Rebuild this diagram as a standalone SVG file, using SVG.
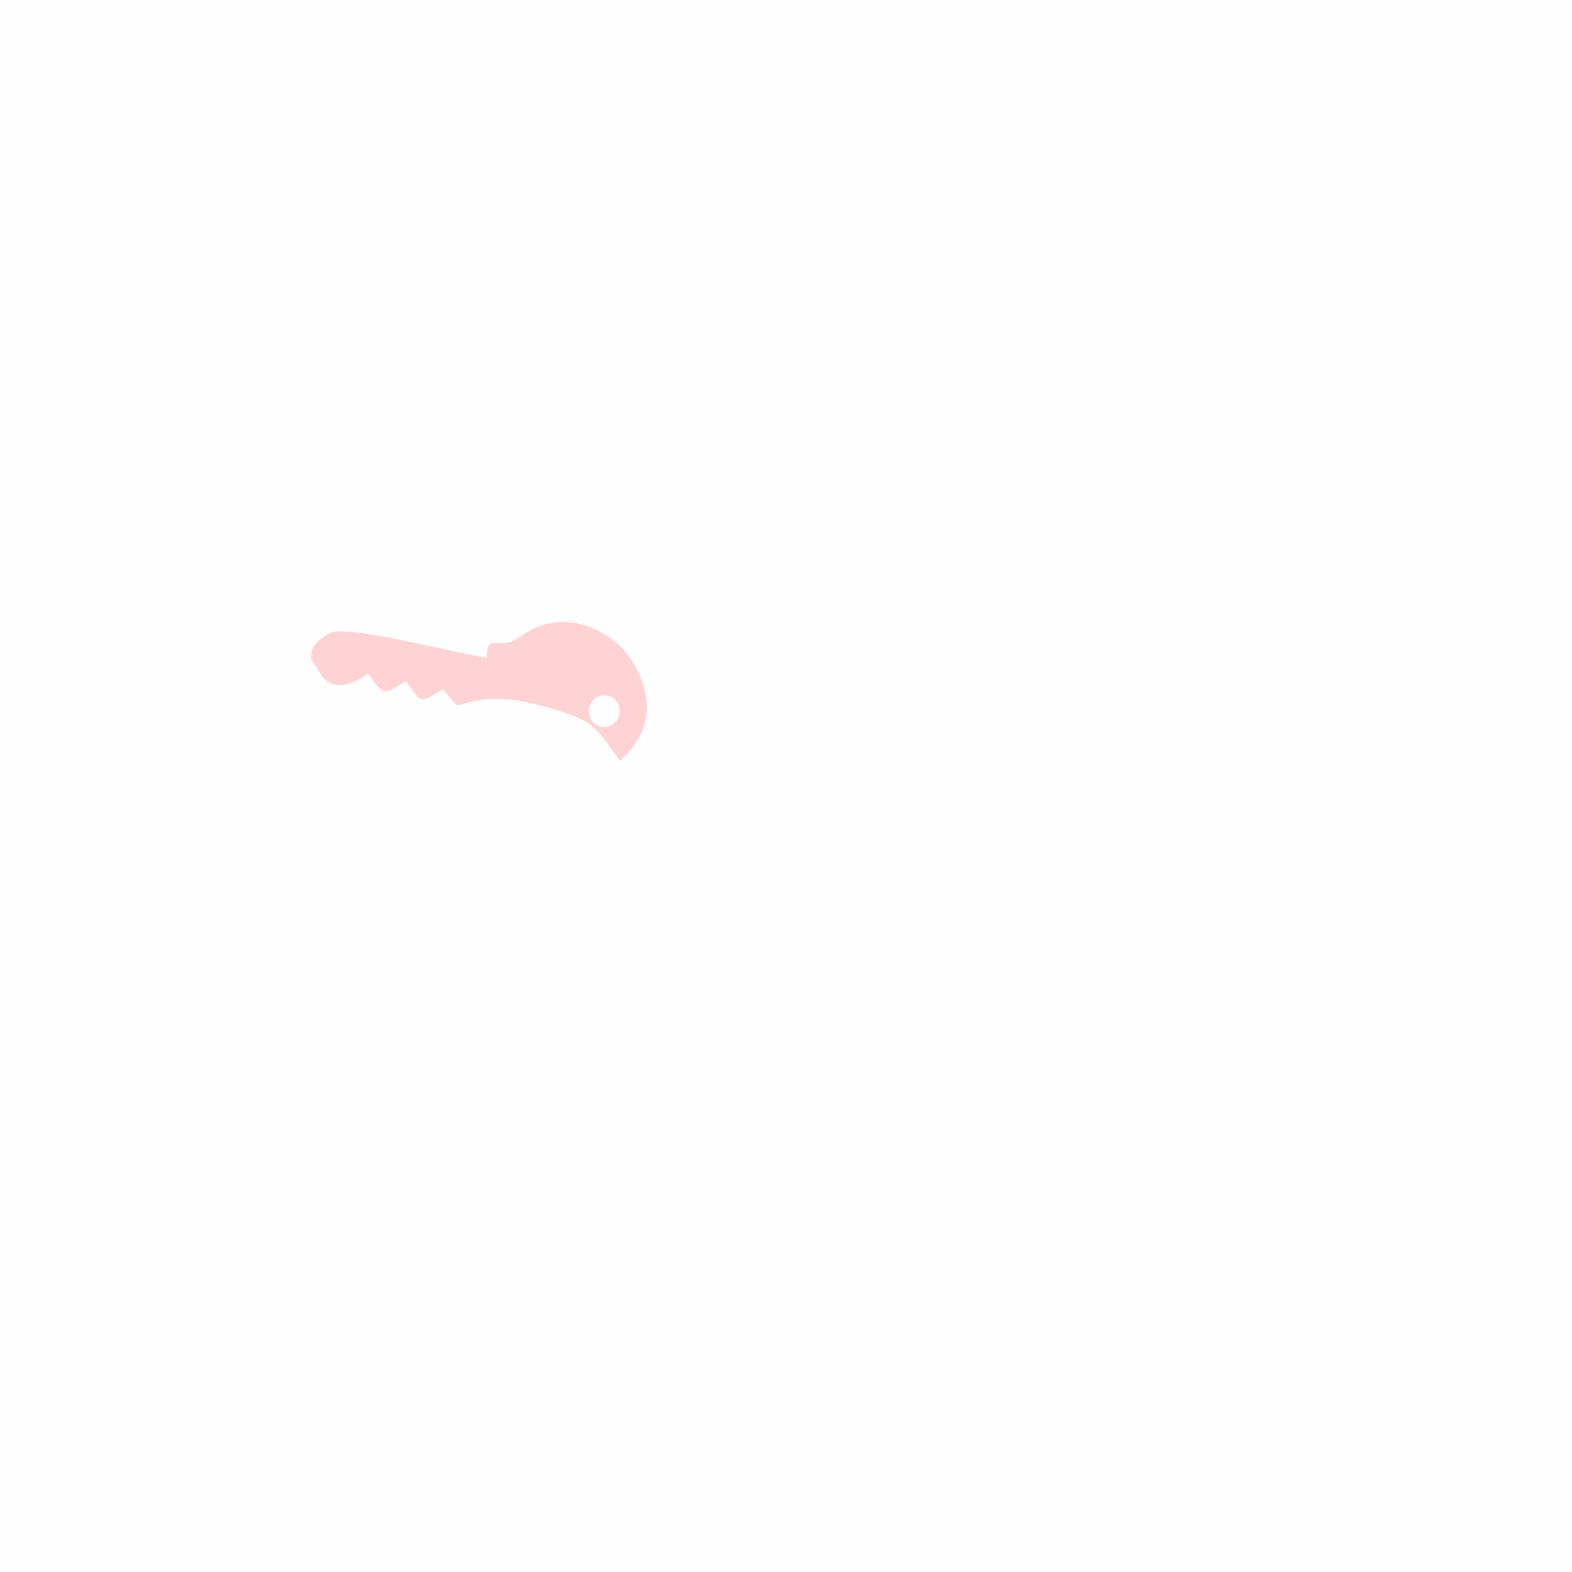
<svg xmlns="http://www.w3.org/2000/svg" width="1572" height="1572" viewBox="0 0 1572 1572">
<rect width="1572" height="1572" fill="#fefefe"/>
<path fill="#ffd2d4" fill-rule="evenodd" d="M340 631.300C358 632 378 635.500 398 639.500C428 645.500 462 653.500 486.800 657.700C487 652 487.500 648 489 645.500C490.500 643 494 642.800 498 643.100C504 643.500 510 643 516 639.500C524 633.500 532 629 540 626C548 623 555 622 563 622C584 622 606 632 621 647C637 663 647 688 647 708C647 728 635 748 620 761C610 747 602 734 592 726C585 720.500 578 717.500 570 714.500C557 710 544 706 530 703C518 700 508 699 497 699C488 698.800 480 699.800 472 701.500C466 703 460 705 458 705C456.500 705 455.500 704 454 702.500L443 689L431 696.500C427 698.800 424 699.500 421.500 699C419 698.300 417 696 415 693.500L405.700 681L393 689C389 691 386 691.700 384 691C381 690 379 688 377 685.500L368 673.700C363 677 357 681 351 683C345 685 339 685.500 334 684.500C329 683.500 325 680 322 676L311 659.300C311 654 312 649 314 646C317 642.500 322 637 328 634C332 632 336 631 340 631.300Z
M604.300 695.300C613 695.300 619.700 702 619.700 711C619.700 720.500 613 727 604 727C595.500 727 589 720 589 711C589 702 596 695.300 604.300 695.300Z"/>
</svg>
